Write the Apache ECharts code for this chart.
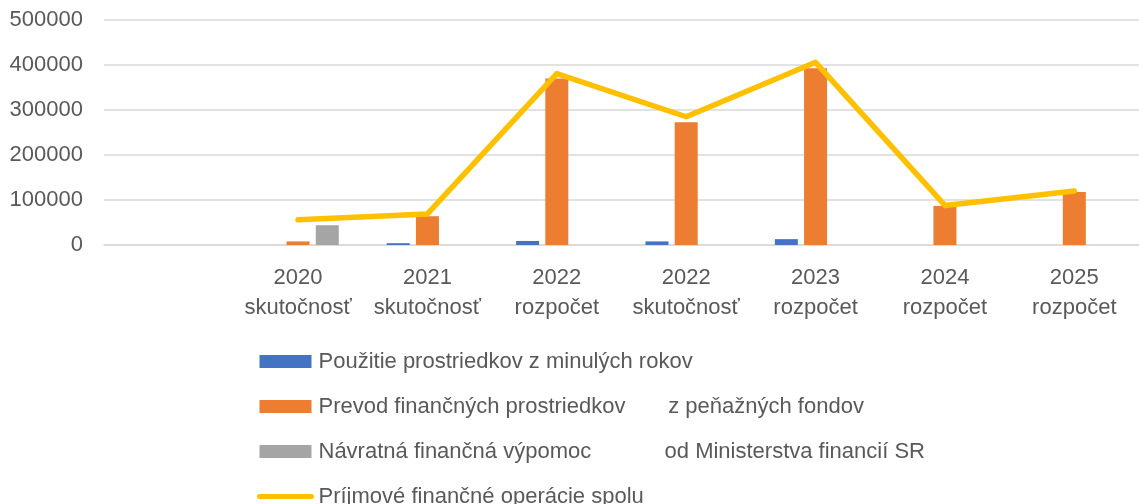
<!DOCTYPE html>
<html>
<head>
<meta charset="utf-8">
<script src="https://cdn.jsdelivr.net/npm/echarts@6/dist/echarts.min.js"></script>
<style>
html,body{margin:0;padding:0;background:#fff;}
#c{width:1139px;height:504px;}
</style>
</head>
<body>
<div id="c"></div>
<script>
const categories = ['', '2020\nskutočnosť', '2021\nskutočnosť', '2022\nrozpočet', '2022\nskutočnosť', '2023\nrozpočet', '2024\nrozpočet', '2025\nrozpočet'];
const seriesNames = [
  'Použitie prostriedkov z minulých rokov',
  'Prevod finančných prostriedkov       z peňažných fondov',
  'Návratná finančná výpomoc            od Ministerstva financií SR',
  'Príjmové finančné operácie spolu'
];
const pouzitie = [null, null, 4000, 9000, 8000, 13000, null, null];
const prevod = [null, 8000, 64000, 370000, 273000, 393000, 87000, 118000];
const navratna = [null, 44000, null, null, null, null, null, null];
const spolu = [null, 56000, 69000, 381000, 285000, 406000, 88000, 120000];
const yTicks = {min: 0, max: 500000, interval: 100000};

const FONT = '"Liberation Sans", Arial, sans-serif';
const chart = echarts.init(document.getElementById('c'));
chart.setOption({
  animation: false,
  textStyle: {fontFamily: FONT},
  grid: {left: 104, width: 1040, top: 20, height: 225, containLabel: false},
  xAxis: {
    type: 'category',
    data: categories,
    axisLine: {show: true, lineStyle: {color: '#D9D9D9', width: 1.5}},
    axisTick: {show: false},
    axisLabel: {color: '#595959', fontSize: 22, lineHeight: 30, margin: 18, fontFamily: FONT, interval: 0}
  },
  yAxis: {
    type: 'value',
    min: yTicks.min, max: yTicks.max, interval: yTicks.interval,
    axisLine: {show: false},
    axisTick: {show: false},
    splitLine: {lineStyle: {color: '#D9D9D9', width: 1.5}},
    axisLabel: {color: '#595959', fontSize: 22, margin: 21, fontFamily: FONT, formatter: v => String(v)}
  },
  legend: {
    orient: 'vertical',
    left: 252,
    top: 344,
    height: 300,
    itemWidth: 52,
    itemHeight: 13,
    itemGap: 20,
    textStyle: {color: '#595959', fontSize: 22, lineHeight: 25, fontFamily: FONT, padding: [0, 0, 0, 2]},
    data: [
      {name: seriesNames[0], icon: 'rect'},
      {name: seriesNames[1], icon: 'rect'},
      {name: seriesNames[2], icon: 'rect'},
      {name: seriesNames[3], itemStyle: {opacity: 0}, lineStyle: {width: 5, cap: 'round', color: '#FFC000'}}
    ]
  },
  series: [
    {name: seriesNames[0], type: 'bar', data: pouzitie, barWidth: 23, barGap: '27%', itemStyle: {color: '#4472C4'}},
    {name: seriesNames[1], type: 'bar', data: prevod, barWidth: 23, barGap: '27%', itemStyle: {color: '#ED7D31'}},
    {name: seriesNames[2], type: 'bar', data: navratna, barWidth: 23, barGap: '27%', itemStyle: {color: '#A5A5A5'}},
    {name: seriesNames[3], type: 'line', data: spolu, symbol: 'none',
     lineStyle: {color: '#FFC000', width: 5.5, cap: 'round', join: 'round'}, itemStyle: {color: '#FFC000'}}
  ]
});
</script>
</body>
</html>
